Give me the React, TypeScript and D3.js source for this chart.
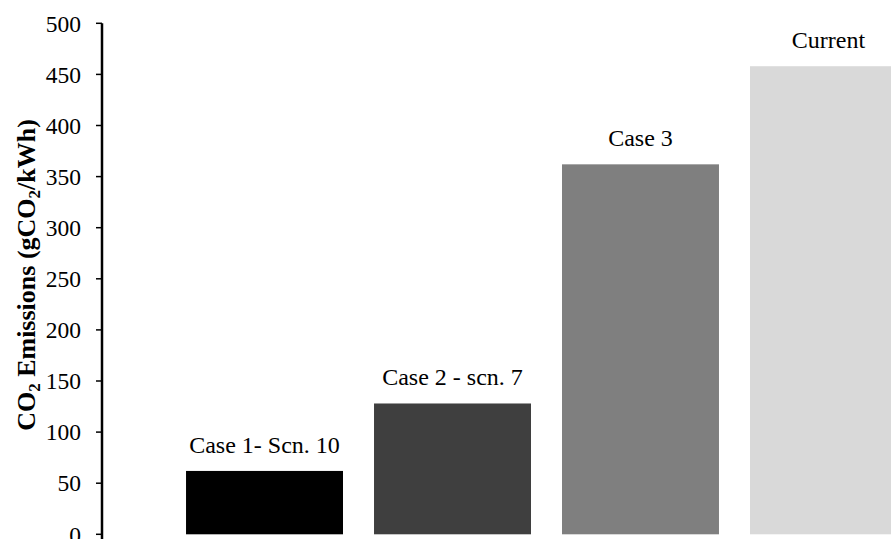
import React from "react";
import * as d3 from "d3";

const categories = ["Case 1- Scn. 10", "Case 2 - scn. 7", "Case 3", "Current"];
const values = [62, 128, 362, 458];
const colors = ["#000000", "#3f3f3f", "#7f7f7f", "#d9d9d9"];
const yTicks = [0, 50, 100, 150, 200, 250, 300, 350, 400, 450, 500];

export default function App() {
  const W = 891;
  const H = 539;
  const axisX = 102;
  const y = d3.scaleLinear().domain([0, 500]).range([534.3, 23.3]);
  const x = d3
    .scaleBand<string>()
    .domain(categories)
    .range([axisX, 991])
    .paddingInner(0.165)
    .paddingOuter(0.447);
  const font = "'Liberation Serif', 'Times New Roman', serif";

  return (
    <div style={{ position: "fixed", left: 0, top: 0, width: W, height: H, background: "#fff" }}>
      <svg width={W} height={H} style={{ display: "block" }}>
        <rect x={0} y={0} width={W} height={H} fill="#fff" />
        {categories.map((c, i) => (
          <g key={c}>
            <rect
              x={x(c)}
              y={y(values[i])}
              width={x.bandwidth()}
              height={y(0) - y(values[i])}
              fill={colors[i]}
            />
            <text
              x={(x(c) as number) + x.bandwidth() / 2}
              y={y(values[i]) - 18}
              textAnchor="middle"
              fontFamily={font}
              fontSize={24}
              fill="#000"
            >
              {c}
            </text>
          </g>
        ))}
        <line x1={axisX} x2={axisX} y1={y(500)} y2={H} stroke="#000" strokeWidth={2.5} />
        {yTicks.map((t) => (
          <g key={t}>
            <line x1={axisX - 6} x2={axisX} y1={y(t)} y2={y(t)} stroke="#000" strokeWidth={1.5} />
            <text
              x={axisX - 21}
              y={y(t)}
              dy="0.35em"
              textAnchor="end"
              fontFamily={font}
              fontSize={23.5}
              fill="#000"
            >
              {t}
            </text>
          </g>
        ))}
        <text
          transform={`translate(35, 275) rotate(-90)`}
          textAnchor="middle"
          fontFamily={font}
          fontSize={26}
          fontWeight="bold"
          fill="#000"
        >
          CO
          <tspan fontSize={17} dy={5}>2</tspan>
          <tspan dy={-5}> Emissions (gCO</tspan>
          <tspan fontSize={17} dy={5}>2</tspan>
          <tspan dy={-5}>/kWh)</tspan>
        </text>
      </svg>
    </div>
  );
}
